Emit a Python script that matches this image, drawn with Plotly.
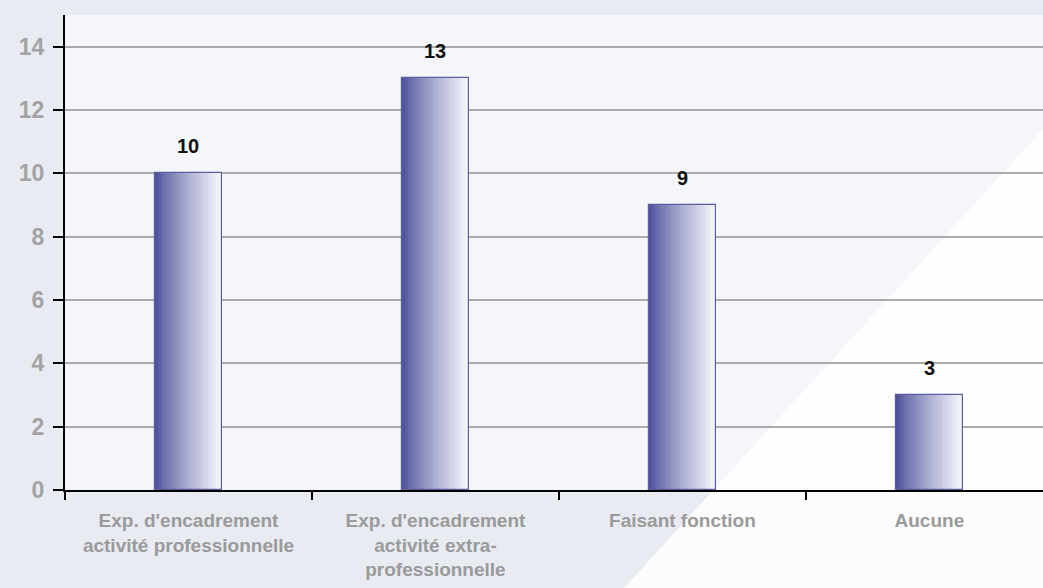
import plotly.graph_objects as go

categories = ["Exp. d'encadrement<br>activité professionnelle",
              "Exp. d'encadrement<br>activité extra-<br>professionnelle",
              "Faisant fonction",
              "Aucune"]
values = [10, 13, 9, 3]
y_ticks = [0, 2, 4, 6, 8, 10, 12, 14]

FONT = "Liberation Sans, Arial, sans-serif"
dark = (80, 84, 156)
light = (246, 247, 252)
n_slices = 24
bar_w = 0.27

fig = go.Figure()
for i in range(n_slices):
    t = i / (n_slices - 1)
    t = t ** 0.85
    c = tuple(int(dark[k] + (light[k] - dark[k]) * t) for k in range(3))
    fig.add_trace(go.Bar(
        x=categories, y=values,
        width=bar_w / n_slices + 0.002,
        offset=-bar_w / 2 + i * bar_w / n_slices,
        marker=dict(color="rgb(%d,%d,%d)" % c, line=dict(width=0)),
        hoverinfo="skip", showlegend=False))

fig.add_trace(go.Bar(
    x=categories, y=values, width=bar_w,
    marker=dict(color="rgba(0,0,0,0)", line=dict(color="#5a5e9e", width=1.2)),
    showlegend=False))

for c, v in zip(categories, values):
    fig.add_annotation(x=c, y=v, text=str(v), showarrow=False, yshift=27,
                       font=dict(family=FONT, size=20, color="#111111", weight="bold"))

fig.add_shape(type="path", xref="paper", yref="paper", layer="below",
              path="M 0.53 -0.3 L 1.0 -0.3 L 1.0 0.76 Z",
              fillcolor="rgba(255,255,255,0.85)", line=dict(width=0))

fig.update_layout(
    width=1043, height=588,
    margin=dict(l=65, r=0, t=15, b=98),
    paper_bgcolor="#e8ebf2",
    plot_bgcolor="rgba(255,255,255,0.55)",
    barmode="overlay",
    bargap=0,
    font=dict(family=FONT),
    xaxis=dict(range=[-0.5, 3.46], showline=True, linecolor="black", linewidth=2,
               ticks="outside", tickson="boundaries", ticklen=8, tickwidth=2,
               tickcolor="black", showgrid=False, automargin=False,
               ticklabelstandoff=12,
               tickfont=dict(family=FONT, size=19, color="#9a9a9a", weight="bold")),
    yaxis=dict(range=[0, 15], tickvals=y_ticks, showline=True, linecolor="black",
               linewidth=2, ticks="outside", ticklen=10, tickwidth=2, tickcolor="black",
               showgrid=True, gridcolor="#ababab", gridwidth=1.5, zeroline=False,
               automargin=False, ticklabelstandoff=4,
               tickfont=dict(family=FONT, size=23, color="#a3a3a3", weight="bold")),
)

fig.write_html("out.html", config={"displayModeBar": False},
               post_script="document.body.style.margin='0';")
